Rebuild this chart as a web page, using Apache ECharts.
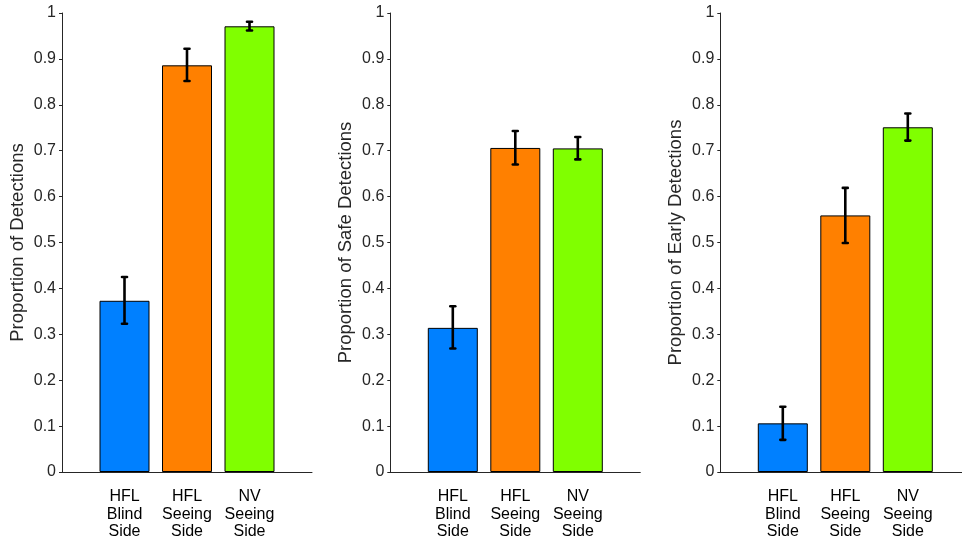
<!DOCTYPE html>
<html><head><meta charset="utf-8">
<script src="https://cdn.jsdelivr.net/npm/echarts@6/dist/echarts.min.js"></script>
<style>html,body{margin:0;padding:0;background:#fff}#c{width:962px;height:542px}</style>
</head><body><div id="c"></div>
<script>
const categories = ['HFL\nBlind\nSide', 'HFL\nSeeing\nSide', 'NV\nSeeing\nSide'];
const barColors = ['#0080FF', '#FF8000', '#80FF00'];
const yTitles = ['Proportion of Detections', 'Proportion of Safe Detections', 'Proportion of Early Detections'];

const detections = [0.373, 0.886, 0.971];
const detectionsLow = [0.323, 0.852, 0.962];
const detectionsHigh = [0.425, 0.922, 0.981];

const safeDetections = [0.314, 0.706, 0.705];
const safeLow = [0.269, 0.670, 0.681];
const safeHigh = [0.361, 0.743, 0.730];

const earlyDetections = [0.106, 0.559, 0.751];
const earlyLow = [0.070, 0.499, 0.722];
const earlyHigh = [0.142, 0.619, 0.781];

const panels = [
  {vals: detections, lo: detectionsLow, hi: detectionsHigh},
  {vals: safeDetections, lo: safeLow, hi: safeHigh},
  {vals: earlyDetections, lo: earlyLow, hi: earlyHigh}
];
// x range: 0..4 (last panel cut by the page edge)
const xMax = [4, 4, 3.867];
const gridLefts = [62, 390.3, 720.3];
const unitPx = 62.5;
const textColor = '#262626';
const font = 'Liberation Sans, Arial, Helvetica, sans-serif';

const grid = [], xAxis = [], yAxis = [], series = [];
panels.forEach((p, i) => {
  grid.push({left: gridLefts[i], top: 13, width: xMax[i] * unitPx, height: 459, containLabel: false});
  xAxis.push({
    type: 'value', gridIndex: i, min: 0, max: xMax[i], interval: 1,
    axisLine: {show: true, onZero: true, lineStyle: {color: textColor, width: 1}},
    axisTick: {show: false}, splitLine: {show: false},
    axisLabel: {
      show: true, margin: 16, color: '#000', fontFamily: font, fontSize: 16, lineHeight: 17.5,
      showMinLabel: true, showMaxLabel: false,
      formatter: v => (v >= 1 && v <= 3) ? categories[v - 1] : ''
    }
  });
  yAxis.push({
    type: 'value', gridIndex: i, min: 0, max: 1, interval: 0.1,
    name: yTitles[i], nameLocation: 'middle', nameGap: 35, nameRotate: 90,
    nameTextStyle: {color: textColor, fontFamily: font, fontSize: 18.5},
    axisLine: {show: true, lineStyle: {color: textColor, width: 1}},
    axisTick: {show: true, inside: false, length: 3, lineStyle: {color: textColor}},
    splitLine: {show: false},
    axisLabel: {color: textColor, fontFamily: font, fontSize: 16, margin: 6,
      formatter: v => (Math.round(v * 10) / 10).toString()}
  });
  series.push({
    type: 'bar', xAxisIndex: i, yAxisIndex: i, barWidth: 50,
    data: p.vals.map((v, k) => ({value: [k + 1, v], itemStyle: {color: barColors[k]}})),
    itemStyle: {borderColor: '#000', borderWidth: 1},
    z: 2
  });
  series.push({
    type: 'custom', xAxisIndex: i, yAxisIndex: i, z: 5,
    data: p.lo.map((l, k) => [k + 1, l, p.hi[k]]),
    renderItem: (params, api) => {
      const x = api.value(0);
      const a = api.coord([x, api.value(1)]);
      const b = api.coord([x, api.value(2)]);
      const st = {stroke: '#000', lineWidth: 2.6};
      const cs = {stroke: '#000', lineWidth: 2.6, lineCap: 'round'};
      return {type: 'group', children: [
        {type: 'line', shape: {x1: a[0], y1: a[1], x2: b[0], y2: b[1]}, style: st},
        {type: 'line', shape: {x1: a[0] - 2.5, y1: a[1], x2: a[0] + 2.5, y2: a[1]}, style: cs},
        {type: 'line', shape: {x1: b[0] - 2.5, y1: b[1], x2: b[0] + 2.5, y2: b[1]}, style: cs}
      ]};
    }
  });
});

const chart = echarts.init(document.getElementById('c'), null, {renderer: 'canvas'});
chart.setOption({animation: false, backgroundColor: '#fff', grid, xAxis, yAxis, series});
</script></body></html>
